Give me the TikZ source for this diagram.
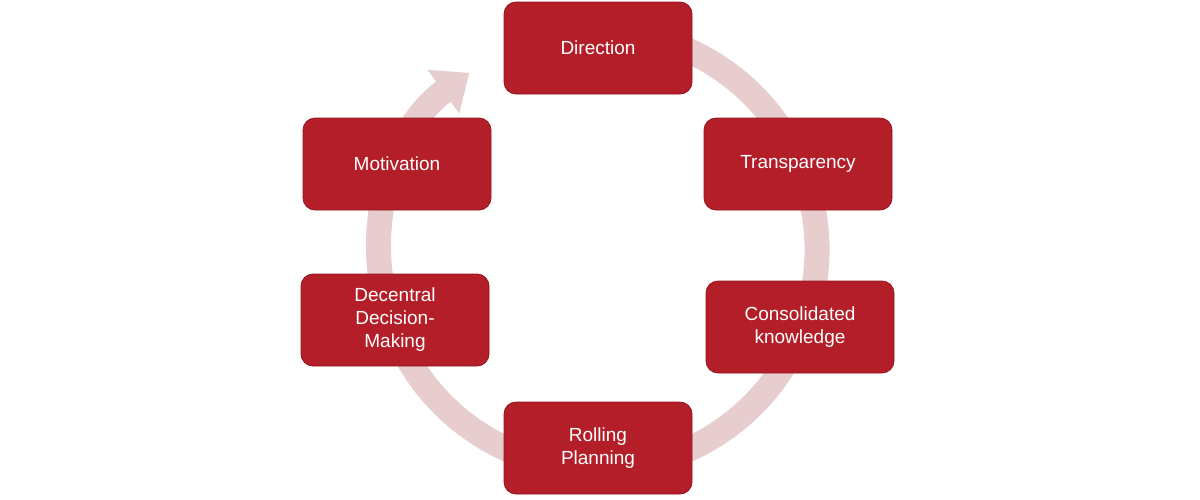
\documentclass[tikz,border=0pt]{standalone}
\usepackage{fontspec}
\setmainfont{Liberation Sans}
\usetikzlibrary{arrows.meta}
\definecolor{boxred}{HTML}{B41E28}
\definecolor{ringpink}{HTML}{E8CDCE}
\begin{document}
\begin{tikzpicture}[x=1pt,y=1pt,
    phase/.style={draw=boxred!80!black, line width=0.8pt, fill=boxred, rounded corners=12pt,
      minimum width=188pt, minimum height=92pt, text width=170pt, align=center,
      text=white, font=\fontsize{19}{23}\selectfont}]
  \useasboundingbox (0,-499) rectangle (1200,0);
  \coordinate (c) at (598,-250);
  % ring with arrow head
  \draw[ringpink, line width=25pt, -{Triangle[width=52pt,length=32pt]}]
    ([shift={(470:219)}]c) arc[start angle=470, end angle=126, radius=219];
  \node[phase] (dir) at (598,-48) {Direction};
  \node[phase] (tra) at (798,-164) {Transparency};
  \node[phase] (con) at (800,-327) {Consolidated\\knowledge};
  \node[phase] (rol) at (598,-448) {Rolling\\Planning};
  \node[phase] (dec) at (395,-320) {Decentral\\Decision-\\Making};
  \node[phase] (mot) at (397,-164) {Motivation};
\end{tikzpicture}
\end{document}
